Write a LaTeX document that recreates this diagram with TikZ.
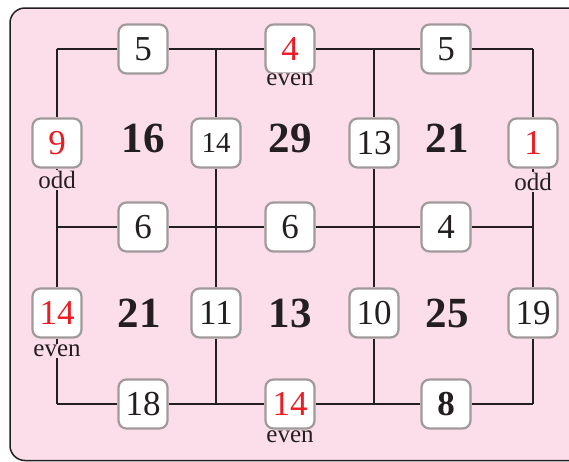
\documentclass[tikz,border=0pt]{standalone}
\usepackage{fontspec}
\setmainfont{Liberation Serif}
\definecolor{bgpink}{RGB}{251,222,233}
\definecolor{ink}{RGB}{35,31,32}
\definecolor{boxgray}{RGB}{160,154,155}
\definecolor{numred}{RGB}{237,28,36}
\tikzset{
  cell/.style={draw=boxgray, line width=2.2pt, fill=white, rounded corners=8pt,
    minimum width=49pt, minimum height=49pt, inner sep=0pt, text=ink,
    font=\fontsize{35}{35}\selectfont},
  redcell/.style={cell, text=numred},
  smallcell/.style={cell, font=\fontsize{29}{29}\selectfont},
  boldcell/.style={cell, font=\fontsize{35}{35}\selectfont\bfseries},
  wire/.style={draw=ink, line width=2.5pt},
  tag/.style={fill=bgpink, inner sep=1pt, text=ink, font=\fontsize{25}{25}\selectfont},
  sum/.style={text=ink, font=\fontsize{43}{43}\selectfont\bfseries, inner sep=0pt}
}
\begin{document}
\begin{tikzpicture}[x=1pt,y=-1pt]
\useasboundingbox (0,0) rectangle (569,461);
\draw[fill=bgpink, draw=ink, line width=1.5pt, rounded corners=15pt] (10,8) rectangle (620,460.5);
% junctions
\foreach \r/\y in {1/49,2/227,3/404}
  \foreach \c/\x in {1/57,2/216,3/374,4/533}
    \coordinate (j\r\c) at (\x,\y);
% horizontal boxes
\node[cell]     (h11) at (143,49) {5};
\node[redcell]  (h12) at (290,49) {4};
\node[cell]     (h13) at (446,49) {5};
\node[cell]     (h21) at (143,227) {6};
\node[cell]     (h22) at (290,227) {6};
\node[cell]     (h23) at (446,227) {4};
\node[cell]     (h31) at (143,404) {18};
\node[redcell]  (h32) at (290,404) {14};
\node[boldcell] (h33) at (446,404) {8};
% vertical boxes
\node[redcell]   (v11) at (57,143) {9};
\node[smallcell] (v12) at (216,143) {14};
\node[cell]      (v13) at (374,143) {13};
\node[redcell]   (v14) at (533,143) {1};
\node[redcell]   (v21) at (57,313) {14};
\node[cell]      (v22) at (216,313) {11};
\node[cell]      (v23) at (374,313) {10};
\node[cell]      (v24) at (533,313) {19};
% wires
\foreach \r in {1,2,3}{
  \draw[wire] (j\r1) -- (h\r1);
  \draw[wire] (h\r1) -- (h\r2);
  \draw[wire] (h\r2) -- (h\r3);
  \draw[wire] (h\r3) -- (j\r4);
}
\foreach \c in {1,2,3,4}{
  \draw[wire] (j1\c) -- (v1\c);
  \draw[wire] (v1\c) -- (v2\c);
  \draw[wire] (v2\c) -- (j3\c);
}
% parity tags
\node[tag] (e1) at (290,80) {even};
\node[tag] (o1) at (57,180) {odd};
\node[tag] (o2) at (533,182) {odd};
\node[tag] (e2) at (57,351) {even};
\node[tag] (e3) at (290,437) {even};
% region sums
\node[sum] (s11) at (143,138) {16};
\node[sum] (s12) at (290,138) {29};
\node[sum] (s13) at (447,138) {21};
\node[sum] (s21) at (139,313) {21};
\node[sum] (s22) at (290,313) {13};
\node[sum] (s23) at (447,313) {25};
\end{tikzpicture}
\end{document}
